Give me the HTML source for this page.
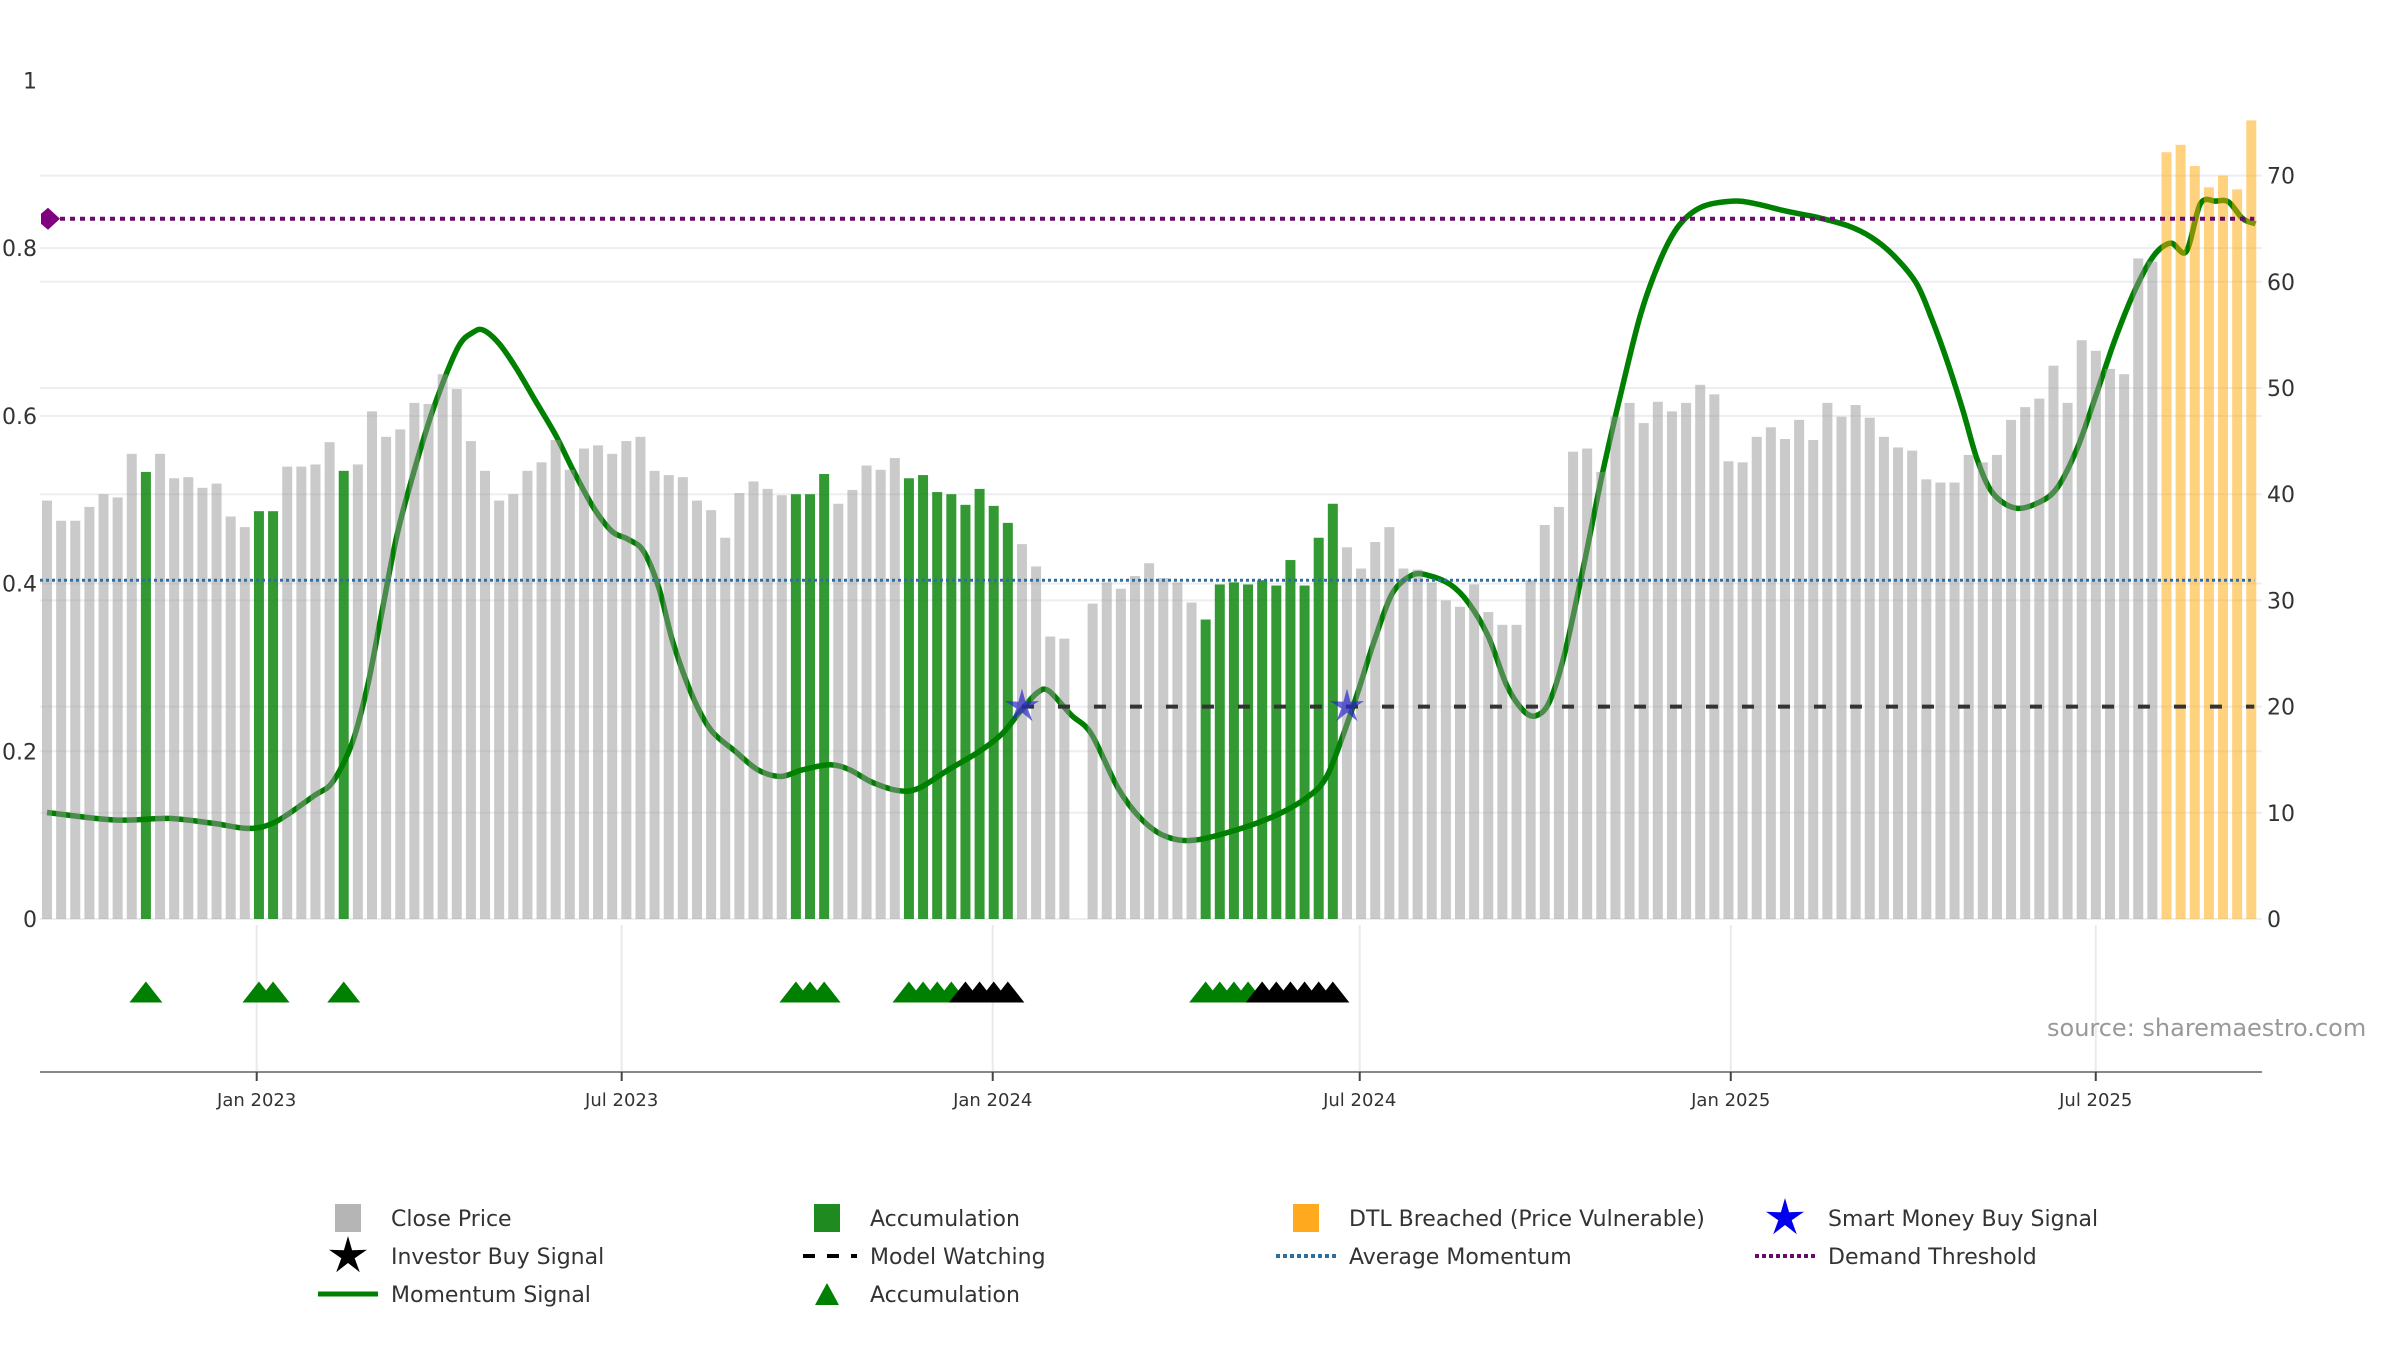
<!DOCTYPE html>
<html><head><meta charset="utf-8"><style>
html,body{margin:0;padding:0;background:#fff;}
svg{display:block;font-family:"DejaVu Sans","Liberation Sans",sans-serif;}
</style></head><body>
<svg id="chart" width="2400" height="1350" viewBox="0 0 2400 1350" xmlns="http://www.w3.org/2000/svg">
<g id="grid"></g>
<g id="vgrid"></g>
<g id="lineLayer"></g>
<g id="barLayer"></g>
<g id="refLayer"></g>
<g id="markLayer"></g>
<g id="axisLayer"></g>
<text x="2047" y="1036" font-size="24" fill="#999">source: sharemaestro.com</text>
<g id="legend"></g>
</svg>
<script>
// ---- data ----
const closeValues = [39.4,37.5,37.5,38.8,40,39.7,43.8,42.1,43.8,41.5,
41.6,40.6,41,37.9,36.9,38.4,38.4,42.6,42.6,42.8,
44.9,42.2,42.8,47.8,45.4,46.1,48.6,48.5,51.3,49.9,
45,42.2,39.4,40,42.2,43,45.1,42.3,44.3,44.6,
43.8,45,45.4,42.2,41.8,41.6,39.4,38.5,35.9,40.1,
41.2,40.5,39.9,40,40,41.9,39.1,40.4,42.7,42.3,
43.4,41.5,41.8,40.2,40,39,40.5,38.9,37.3,35.3,
33.2,26.6,26.4,null,29.7,31.7,31.1,32.3,33.5,32.1,31.7,29.8,
28.2,31.5,31.7,31.5,31.9,31.4,33.8,31.4,35.9,39.1,
35,33,35.5,36.9,33,32.9,31.7,30,29.4,31.5,
28.9,27.7,27.7,31.9,37.1,38.8,44,44.3,42.1,47.3,
48.6,46.7,48.7,47.8,48.6,50.3,49.4,43.1,43,45.4,
46.3,45.2,47,45.1,48.6,47.3,48.4,47.2,45.4,44.4,
44.1,41.4,41.1,41.1,43.7,43,43.7,47,48.2,49,
52.1,48.6,54.5,53.5,51.8,51.3,62.2,61.9,
72.2,72.9,70.9,68.9,70,68.7,75.2];
const accumIdx = [7,15,16,21,53,54,55,61,62,63,64,65,66,67,68,82,83,84,85,86,87,88,89,90,91];
const dtlIdx = [150,151,152,153,154,155,156];
const accumTriIdx = [7,15,16,21,53,54,55,61,62,63,64,82,83,84,85];
const investorIdx = [65,66,67,68,86,87,88,89,90,91];
const smartIdx = [69,92];
const smartVal = [20,20];
const momIdx = [0,4.8,8.6,11.8,14.3,16.2,18.9,20.2,21.6,22.7,23.7,24.8,26.2,27.5,29.1,30.2,30.9,32,33.2,34.6,36,37.3,38.7,40,41.1,42.2,43.3,44.3,45.7,47,48.7,50.3,51.9,53.5,55.4,56.8,58.4,60.3,61.7,63.8,66,67.6,69,70.1,70.9,72.5,73.9,75.8,77.4,79.1,81.2,
84.7,87.4,89.5,90.6,91.7,92.8,93.9,95.2,96.6,97.7,99.3,100.6,102,103.3,104.4,105.3,106.3,107.4,108.8,110.1,111.5,112.8,114.2,115.5,117.1,119.3,120.9,123.1,125.2,127.4,129.1,130.7,132.3,133.4,134.5,135.6,136.6,137.7,139.3,141,142.3,143.7,145,146.4,147.8,149.1,150.3,151.4,152.4,153.5,154.4,155.4,156.3];
const momVal = [0.127,0.118,0.12,0.114,0.108,0.116,0.147,0.163,0.21,0.279,0.366,0.46,0.547,0.616,0.682,0.70,0.702,0.686,0.657,0.617,0.577,0.533,0.49,0.462,0.453,0.439,0.395,0.33,0.265,0.225,0.2,0.178,0.17,0.178,0.184,0.178,0.163,0.153,0.156,0.178,0.2,0.221,0.25,0.27,0.272,0.243,0.221,0.156,0.12,0.099,0.094,
0.109,0.127,0.149,0.171,0.218,0.272,0.33,0.388,0.41,0.41,0.399,0.377,0.337,0.279,0.25,0.242,0.258,0.316,0.425,0.533,0.635,0.722,0.787,0.827,0.849,0.856,0.853,0.844,0.837,0.827,0.813,0.791,0.758,0.715,0.664,0.606,0.548,0.508,0.49,0.497,0.515,0.562,0.624,0.693,0.751,0.791,0.806,0.796,0.853,0.856,0.855,0.835,0.829];
const demandThreshold = [0.835];
const avgMomentum = [0.404];
const modelWatchVal = [20];
const leftTicks = [0,0.2,0.4,0.6,0.8,1];
const leftTickLabels = ["0","0.2","0.4","0.6","0.8","1"];
const rightTicks = [0,10,20,30,40,50,60,70];
const dateTicks = ["2023-01-01","2023-07-01","2024-01-01","2024-07-01","2025-01-01","2025-07-01"];
const dateTickLabels = ["Jan 2023","Jul 2023","Jan 2024","Jul 2024","Jan 2025","Jul 2025"];

// ---- scales ----
const NS="http://www.w3.org/2000/svg";
const X0=47, STEP=14.13, Y0=919;
function xI(i){return X0+i*STEP;}
function yR(v){return Y0-v*10.62;}
function yL(v){return Y0-v*838.6;}
function xD(s){const d=(Date.parse(s)-Date.parse("2023-01-01"))/86400000;return 256.7+d*2.0165;}
function el(tag,attrs,parent){const e=document.createElementNS(NS,tag);for(const k in attrs)e.setAttribute(k,attrs[k]);parent.appendChild(e);return e;}
const grid=document.getElementById('grid'),vgrid=document.getElementById('vgrid'),lineL=document.getElementById('lineLayer'),barL=document.getElementById('barLayer'),refL=document.getElementById('refLayer'),markL=document.getElementById('markLayer'),axL=document.getElementById('axisLayer'),leg=document.getElementById('legend');
const PL=40, PR=2262, AXY=1072;

rightTicks.forEach(v=>{const g=el('line',{x1:PL,x2:PR,y1:yR(v),y2:yR(v),stroke:'#eceef2','stroke-width':2},grid);

});
leftTicks.slice(0,5).forEach(v=>{const g=el('line',{x1:PL,x2:PR,y1:yL(v),y2:yL(v),stroke:'#eceef2','stroke-width':2},grid);

});
dateTicks.forEach(d=>{const g=el('line',{x1:xD(d),x2:xD(d),y1:925,y2:AXY,stroke:'#e8eaef','stroke-width':2},vgrid);

});

(function(){
 const pts=momIdx.map((i,k)=>[xI(i),yL(momVal[k])]);
 let d='M'+pts[0][0]+','+pts[0][1];
 for(let k=0;k<pts.length-1;k++){
  const p0=pts[Math.max(0,k-1)],p1=pts[k],p2=pts[k+1],p3=pts[Math.min(pts.length-1,k+2)];
  const t=0.16;
  d+=' C'+(p1[0]+(p2[0]-p0[0])*t)+','+(p1[1]+(p2[1]-p0[1])*t)+' '+(p2[0]-(p3[0]-p1[0])*t)+','+(p2[1]-(p3[1]-p1[1])*t)+' '+p2[0]+','+p2[1];
 }
 const p=el('path',{d:d,fill:'none',stroke:'#008000','stroke-width':5.5,'stroke-linejoin':'round'},lineL);
 
 
})();

closeValues.forEach((v,i)=>{
 if(v===null)return;
 let fill='rgba(150,150,150,0.5)', name='close-price-bar';
 if(accumIdx.includes(i)){fill='rgba(0,128,0,0.8)';name='accumulation-bar';}
 if(dtlIdx.includes(i)){fill='rgba(255,165,0,0.5)';name='dtl-breached-bar';}
 const r=el('rect',{x:xI(i)-5,y:yR(v),width:10,height:Y0-yR(v),fill:fill},barL);
 
 
});

(function(){
 const a=el('line',{x1:PL,x2:xI(156)+3,y1:yL(avgMomentum[0]),y2:yL(avgMomentum[0]),stroke:'#2f6fa0','stroke-width':3,'stroke-dasharray':'3,3'},refL);
 
 
 const dm=el('line',{x1:PL+10,x2:xI(156)+3,y1:yL(demandThreshold[0]),y2:yL(demandThreshold[0]),stroke:'#6a0a6a','stroke-width':4,'stroke-dasharray':'5,5'},refL);
 
 
 const y=yL(demandThreshold[0]);
 const dia=el('polygon',{points:(PL+1)+','+(y-5)+' '+(PL+8)+','+(y-11)+' '+(PL+20)+','+y+' '+(PL+8)+','+(y+11)+' '+(PL+1)+','+(y+5),fill:'#800080'},refL);
 
 
 const mw=el('line',{x1:xI(smartIdx[0]),x2:xI(156)+3,y1:yR(modelWatchVal[0]),y2:yR(modelWatchVal[0]),stroke:'#333','stroke-width':4,'stroke-dasharray':'12,24'},refL);
 
 
})();

function starPts(cx,cy,R,r){let s=[];for(let k=0;k<10;k++){const a=-Math.PI/2+k*Math.PI/5;const rr=k%2?r:R;s.push((cx+rr*Math.cos(a)).toFixed(1)+','+(cy+rr*Math.sin(a)).toFixed(1));}return s.join(' ');}
function tri(cx,cy,w,h){return (cx-w/2)+','+(cy+h/2)+' '+cx+','+(cy-h/2)+' '+(cx+w/2)+','+(cy+h/2);}

smartIdx.forEach((i,k)=>{
 const s=el('polygon',{points:starPts(xI(i),yR(smartVal[k]),18,6),fill:'rgba(40,40,200,0.7)'},markL);
 
 
});
accumTriIdx.forEach(i=>{
 const t=el('polygon',{points:tri(xI(i),992,33,21),fill:'#008000'},markL);
 
 
});
investorIdx.forEach(i=>{
 const t=el('polygon',{points:tri(xI(i),992,33,21),fill:'#000'},markL);
 
 
});

(function(){
 const ax=el('line',{x1:PL,x2:PR,y1:AXY,y2:AXY,stroke:'#888','stroke-width':2},axL);
 
 
 dateTicks.forEach((d,k)=>{
  const t=el('line',{x1:xD(d),x2:xD(d),y1:AXY,y2:AXY+9,stroke:'#444','stroke-width':2},axL);
  
  
  const tx=el('text',{x:xD(d),y:1106,'text-anchor':'middle','font-size':18,fill:'#333'},axL);
  tx.textContent=dateTickLabels[k];
  
  
 });
 leftTicks.forEach((v,k)=>{
  const tx=el('text',{x:37,y:yL(v)+8,'text-anchor':'end','font-size':22,fill:'#333'},axL);
  tx.textContent=leftTickLabels[k];
  
  
 });
 rightTicks.forEach(v=>{
  const tx=el('text',{x:2267,y:yR(v)+8,'font-size':22,fill:'#333'},axL);
  tx.textContent=String(v);
  
  
 });
})();

(function(){
 const cols=[348,827,1306,1785], rows=[1218,1256,1294];
 const items=[
  [0,0,'rect','#b5b5b5','Close Price'],[1,0,'rect','#1f8a1f','Accumulation'],[2,0,'rect','#ffa91f','DTL Breached (Price Vulnerable)'],[3,0,'bstar','#0000ee','Smart Money Buy Signal'],
  [0,1,'kstar','#000','Investor Buy Signal'],[1,1,'dash','#000','Model Watching'],[2,1,'dotb','#2f6fa0','Average Momentum'],[3,1,'dotp','#6a0a6a','Demand Threshold'],
  [0,2,'line','#008000','Momentum Signal'],[1,2,'tri','#008000','Accumulation']];
 items.forEach(it=>{
  const cx=cols[it[0]], cy=rows[it[1]];
  const g=el('g',{},leg);
  
  
  const ty=it[2];
  if(ty==='rect') el('rect',{x:cx-13,y:cy-14,width:26,height:28,fill:it[3]},g);
  else if(ty==='bstar'||ty==='kstar') el('polygon',{points:starPts(cx,cy,20,7),fill:it[3]},g);
  else if(ty==='dash') el('line',{x1:cx-30,x2:cx+30,y1:cy,y2:cy,stroke:it[3],'stroke-width':4,'stroke-dasharray':'12,12','stroke-dashoffset':'-6'},g);
  else if(ty==='dotb'||ty==='dotp') el('line',{x1:cx-30,x2:cx+30,y1:cy,y2:cy,stroke:it[3],'stroke-width':4,'stroke-dasharray':'4,3'},g);
  else if(ty==='line') el('line',{x1:cx-30,x2:cx+30,y1:cy,y2:cy,stroke:it[3],'stroke-width':5},g);
  else if(ty==='tri') el('polygon',{points:tri(cx,cy,24,22),fill:it[3]},g);
  const tx=el('text',{x:cx+43,y:cy+8,'font-size':22,fill:'#333'},g);
  tx.textContent=it[4];
 });
})();
</script>
</body></html>
